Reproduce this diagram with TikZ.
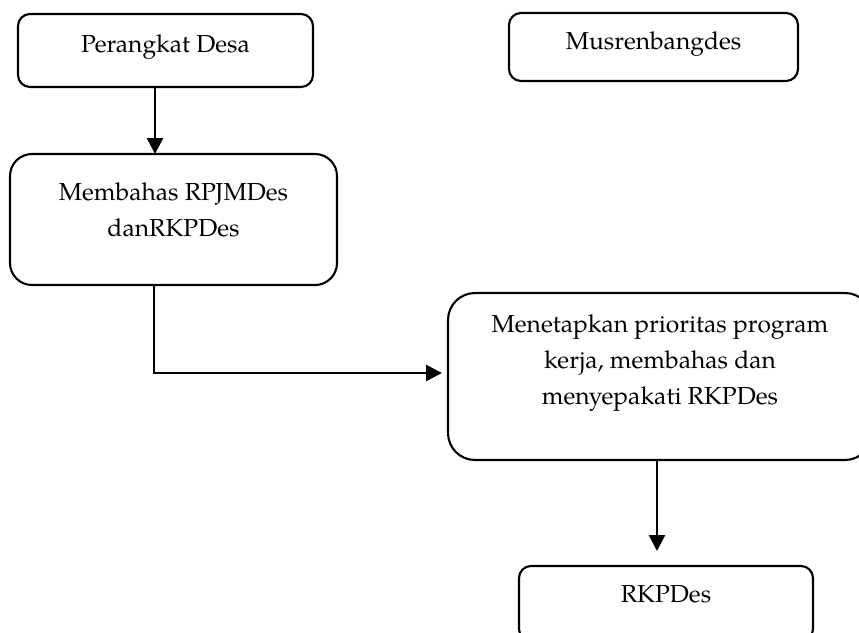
\documentclass[tikz,border=0pt]{standalone}
\usepackage{fontspec}
\setmainfont{TeX Gyre Pagella}
\usetikzlibrary{arrows.meta,calc}
\begin{document}
\begin{tikzpicture}[x=1pt,y=-1pt,
  box/.style={draw=black, line width=2.1pt, rectangle, outer sep=0pt, inner sep=0pt, anchor=north west},
  txt/.style={font=\fontsize{24.6}{36}\selectfont, align=center, inner sep=0pt, anchor=base},
  arr/.style={line width=2.5pt, -{Triangle[length=16pt,width=16pt]}}]
\useasboundingbox (0,0) rectangle (859,632);
\node[box, minimum width=295pt, minimum height=73pt, rounded corners=12pt] (b1) at (18,14) {};
\node[box, minimum width=289pt, minimum height=68pt, rounded corners=12pt] (b2) at (509,13) {};
\node[box, minimum width=327pt, minimum height=131pt, rounded corners=22pt] (b3) at (10,154) {};
\node[box, minimum width=424pt, minimum height=167pt, rounded corners=27pt] (b4) at (448,293) {};
\node[box, minimum width=294pt, minimum height=75pt, rounded corners=12pt] (b5) at (519,566) {};
\node[txt] (t1) at ($(b1.north)+(0,38)$) {Perangkat Desa};
\node[txt] (t2) at ($(b2.north)+(0,36.5)$) {Musrenbangdes};
\node[txt] (t3) at ($(b3.north)+(0,82)$) {Membahas RPJMDes\\danRKPDes};
\node[txt] (t4) at ($(b4.north)+(0,111)$) {Menetapkan prioritas program\\kerja, membahas dan\\menyepakati RKPDes};
\node[txt] (t5) at ($(b5.north)+(0,36)$) {RKPDes};
\draw[arr] (b1.south -| 155,0) -- (b3.north -| 155,0);
\draw[arr, shorten >=6pt] (b3.south -| 154,0) |- (b4.west |- 0,373);
\draw[arr, shorten >=15pt] (b4.south -| 657,0) -- (b5.north -| 657,0);
\end{tikzpicture}
\end{document}
